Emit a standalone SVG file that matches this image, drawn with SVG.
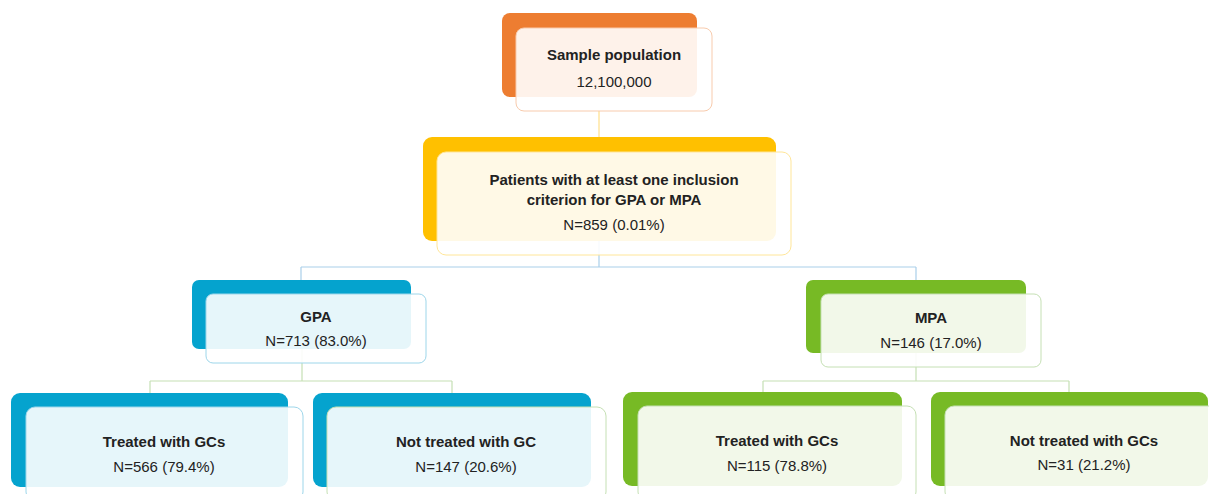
<svg xmlns="http://www.w3.org/2000/svg" width="1209" height="494" viewBox="0 0 1209 494">
<style>
text{font-family:"Liberation Sans",Arial,sans-serif;font-size:15px;fill:#222;text-anchor:middle}
.b{font-weight:bold}
.front{fill:#fff;fill-opacity:0.9;stroke-width:1}
.conn line{stroke-width:1.2;fill:none}
.c1{stroke:#FFE08A}
.c2{stroke:#A9CFEA}
.c3{stroke:#C5E0B4}
</style>
<rect width="1209" height="494" fill="#fff"/>
<g id="connectors" class="conn">
<line class="c1" x1="599" y1="111" x2="599" y2="137"/>
<line class="c2" x1="599" y1="241" x2="599" y2="267"/>
<line class="c2" x1="301" y1="267" x2="916" y2="267"/>
<line class="c2" x1="301" y1="267" x2="301" y2="280"/>
<line class="c2" x1="916" y1="267" x2="916" y2="280"/>
<line class="c3" x1="302" y1="349" x2="302" y2="381"/>
<line class="c3" x1="150" y1="381" x2="452" y2="381"/>
<line class="c3" x1="150" y1="381" x2="150" y2="393"/>
<line class="c3" x1="452" y1="381" x2="452" y2="393"/>
<line class="c3" x1="916" y1="353" x2="916" y2="381"/>
<line class="c3" x1="763" y1="381" x2="1069" y2="381"/>
<line class="c3" x1="763" y1="381" x2="763" y2="392"/>
<line class="c3" x1="1069" y1="381" x2="1069" y2="392"/>
</g>
<g id="node-sample">
<rect x="502" y="13" width="195" height="84" rx="8" fill="#ED7D31"/>
<rect class="front" x="516" y="28" width="196" height="83" rx="8" stroke="#F8CBAD"/>
<text class="b" x="614" y="60">Sample population</text>
<text x="614" y="87">12,100,000</text>
</g>
<g id="node-patients">
<rect x="423" y="137" width="353" height="104" rx="9" fill="#FFC000"/>
<rect class="front" x="437" y="152" width="354" height="103" rx="9" stroke="#FFE699"/>
<text class="b" x="614" y="185">Patients with at least one inclusion</text>
<text class="b" x="614" y="205">criterion for GPA or MPA</text>
<text x="614" y="230">N=859 (0.01%)</text>
</g>
<g id="node-gpa">
<rect x="192" y="280" width="219" height="69" rx="7" fill="#05A3CE"/>
<rect class="front" x="206" y="294" width="220" height="69" rx="7" stroke="#9DD6EA"/>
<text class="b" x="316" y="322">GPA</text>
<text x="316" y="346">N=713 (83.0%)</text>
</g>
<g id="node-mpa">
<rect x="806" y="280" width="220" height="73" rx="7" fill="#77BA25"/>
<rect class="front" x="821" y="294" width="220" height="73" rx="7" stroke="#C5E0B4"/>
<text class="b" x="931" y="323">MPA</text>
<text x="931" y="348">N=146 (17.0%)</text>
</g>
<g id="node-gpa-treated">
<rect x="11" y="393" width="277" height="94" rx="9" fill="#05A3CE"/>
<rect class="front" x="26" y="407" width="277" height="94" rx="9" stroke="#9DD6EA"/>
<text class="b" x="164" y="447">Treated with GCs</text>
<text x="164" y="472">N=566 (79.4%)</text>
</g>
<g id="node-gpa-not">
<rect x="313" y="393" width="278" height="94" rx="9" fill="#05A3CE"/>
<rect class="front" x="327" y="407" width="279" height="94" rx="9" stroke="#C5E0B4"/>
<text class="b" x="466" y="447">Not treated with GC</text>
<text x="466" y="472">N=147 (20.6%)</text>
</g>
<g id="node-mpa-treated">
<rect x="623" y="392" width="279" height="94" rx="9" fill="#77BA25"/>
<rect class="front" x="638" y="406" width="278" height="95" rx="9" stroke="#C5E0B4"/>
<text class="b" x="777" y="446">Treated with GCs</text>
<text x="777" y="471">N=115 (78.8%)</text>
</g>
<g id="node-mpa-not">
<rect x="931" y="392" width="277" height="94" rx="9" fill="#77BA25"/>
<rect class="front" x="945" y="406" width="277" height="95" rx="9" stroke="#C5E0B4"/>
<text class="b" x="1084" y="446">Not treated with GCs</text>
<text x="1084" y="470">N=31 (21.2%)</text>
</g>
</svg>
